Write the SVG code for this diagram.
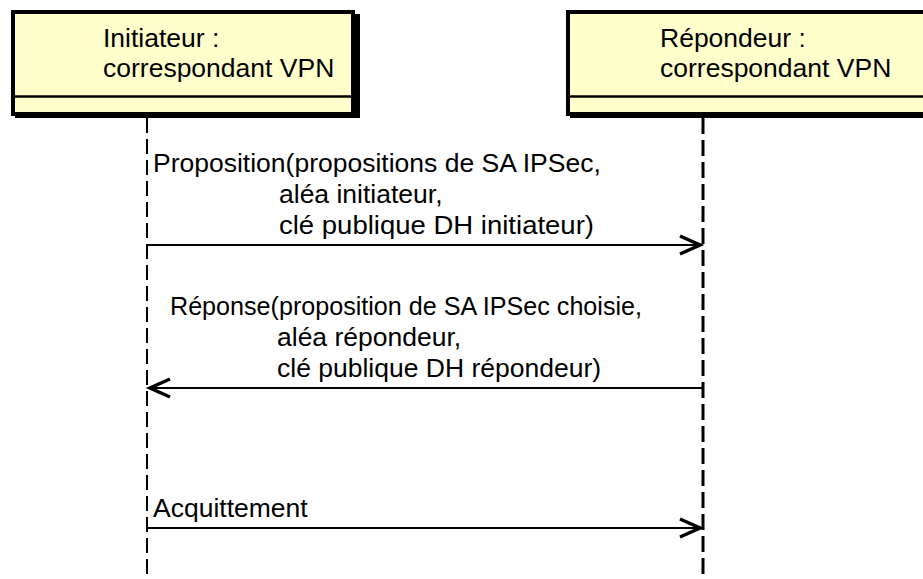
<svg xmlns="http://www.w3.org/2000/svg" width="923" height="579" viewBox="0 0 923 579">
  <style>
    .lbl { font-family: "Liberation Sans", Arial, sans-serif; font-size: 26.5px; fill: #000; }
    .box { fill: #FFFFCC; stroke: #000; stroke-width: 4; }
    .shadow { fill: #000; }
    .div { stroke: #000; stroke-width: 2.5; }
    .msg { stroke: #000; stroke-width: 2; fill: none; }
    .head { stroke: #000; stroke-width: 3.5; fill: none; }
  </style>
  <rect width="923" height="579" fill="#fff"/>
  <g id="lifelines">
    <line x1="147" y1="118" x2="147" y2="579" stroke="#000" stroke-width="2" stroke-dasharray="15 6"/>
    <line x1="703" y1="118" x2="703" y2="579" stroke="#000" stroke-width="3" stroke-dasharray="16 6"/>
  </g>
  <g id="initiateur">
    <rect class="shadow" x="15" y="14" width="345" height="104"/>
    <rect class="box" x="13" y="12" width="340" height="102"/>
    <line class="div" x1="13" y1="96.5" x2="353" y2="96.5"/>
    <text class="lbl" x="103" y="47">Initiateur :</text>
    <text class="lbl" x="103" y="77">correspondant VPN</text>
  </g>
  <g id="repondeur">
    <rect class="shadow" x="570" y="14" width="370" height="104"/>
    <rect class="box" x="568" y="12" width="370" height="102"/>
    <line class="div" x1="568" y1="96.5" x2="923" y2="96.5"/>
    <text class="lbl" x="660" y="47">Répondeur :</text>
    <text class="lbl" x="660" y="77">correspondant VPN</text>
  </g>
  <g id="connectors">
    <g id="msg-proposition">
      <line class="msg" x1="147" y1="245" x2="700" y2="245"/>
      <polyline class="head" points="680,236 700,245 680,254"/>
      <text class="lbl" x="153" y="172">Proposition(propositions de SA IPSec,</text>
      <text class="lbl" x="279" y="203">aléa initiateur,</text>
      <text class="lbl" x="279" y="234" textLength="315" lengthAdjust="spacingAndGlyphs">clé publique DH initiateur)</text>
    </g>
    <g id="msg-reponse">
      <line class="msg" x1="703" y1="388" x2="150" y2="388"/>
      <polyline class="head" points="170,379 150,388 170,397"/>
      <text class="lbl" x="170" y="315" textLength="472" lengthAdjust="spacingAndGlyphs">Réponse(proposition de SA IPSec choisie,</text>
      <text class="lbl" x="277" y="346">aléa répondeur,</text>
      <text class="lbl" x="277" y="377">clé publique DH répondeur)</text>
    </g>
    <g id="msg-acquittement">
      <line class="msg" x1="147" y1="528" x2="700" y2="528"/>
      <polyline class="head" points="680,519 700,528 680,537"/>
      <text class="lbl" x="153" y="517">Acquittement</text>
    </g>
  </g>
</svg>
